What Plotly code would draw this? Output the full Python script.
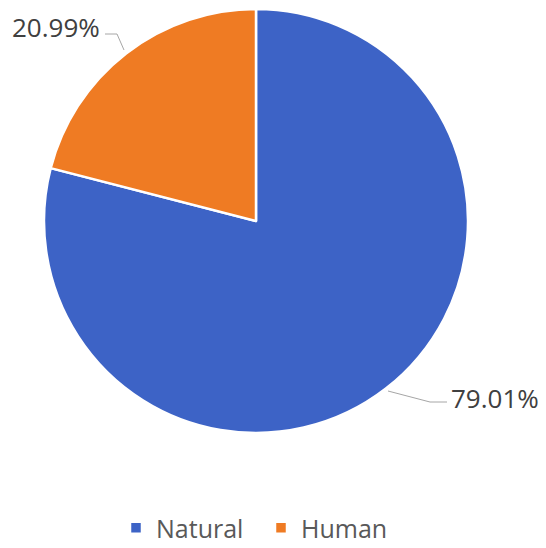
import plotly.graph_objects as go

labels = ["Natural", "Human"]
values = [79.01, 20.99]
colors = ["#3D63C6", "#EF7B23"]

W, H = 546, 548
OFF = 8  # page body margin offset
cx, cy, r = 256 - OFF, 221 - OFF, 212
FONT = "Open Sans, Liberation Sans, sans-serif"


def px(x):
    return (x - OFF) / W


def py(y):
    return 1 - (y - OFF) / H


fig = go.Figure(go.Pie(
    labels=labels, values=values, sort=False, direction="clockwise", rotation=0,
    marker=dict(colors=colors, line=dict(color="white", width=2.5)),
    textinfo="none", hoverinfo="label+percent",
    domain=dict(x=[(cx - r) / W, (cx + r) / W], y=[1 - (cy + r) / H, 1 - (cy - r) / H]),
))

total = sum(values)
pct = [f"{v / total * 100:.2f}%" for v in values]

fig.add_annotation(x=px(10), y=py(27), xref="paper", yref="paper", text=pct[1],
                   showarrow=False, xanchor="left", yanchor="middle",
                   font=dict(family=FONT, size=26, color="#404040"))
fig.add_annotation(x=px(449), y=py(398), xref="paper", yref="paper", text=pct[0],
                   showarrow=False, xanchor="left", yanchor="middle",
                   font=dict(family=FONT, size=26, color="#404040"))

fig.add_shape(type="path", xref="paper", yref="paper",
              path=f"M {px(105)} {py(34)} L {px(117)} {py(34)} L {px(124)} {py(50)}",
              line=dict(color="#A6A6A6", width=1))
fig.add_shape(type="path", xref="paper", yref="paper",
              path=f"M {px(388)} {py(391)} L {px(430)} {py(402)} L {px(447)} {py(402)}",
              line=dict(color="#A6A6A6", width=1))

fig.update_layout(
    width=W, height=H, margin=dict(l=0, r=0, t=0, b=0),
    paper_bgcolor="white", plot_bgcolor="white",
    showlegend=True,
    legend=dict(orientation="h", x=px(116), xanchor="left", y=py(528), yanchor="middle",
                font=dict(family=FONT, size=25, color="#595959"),
                itemwidth=30, entrywidth=100, entrywidthmode="pixels", traceorder="normal"),
)

fig.write_html("out.html")
